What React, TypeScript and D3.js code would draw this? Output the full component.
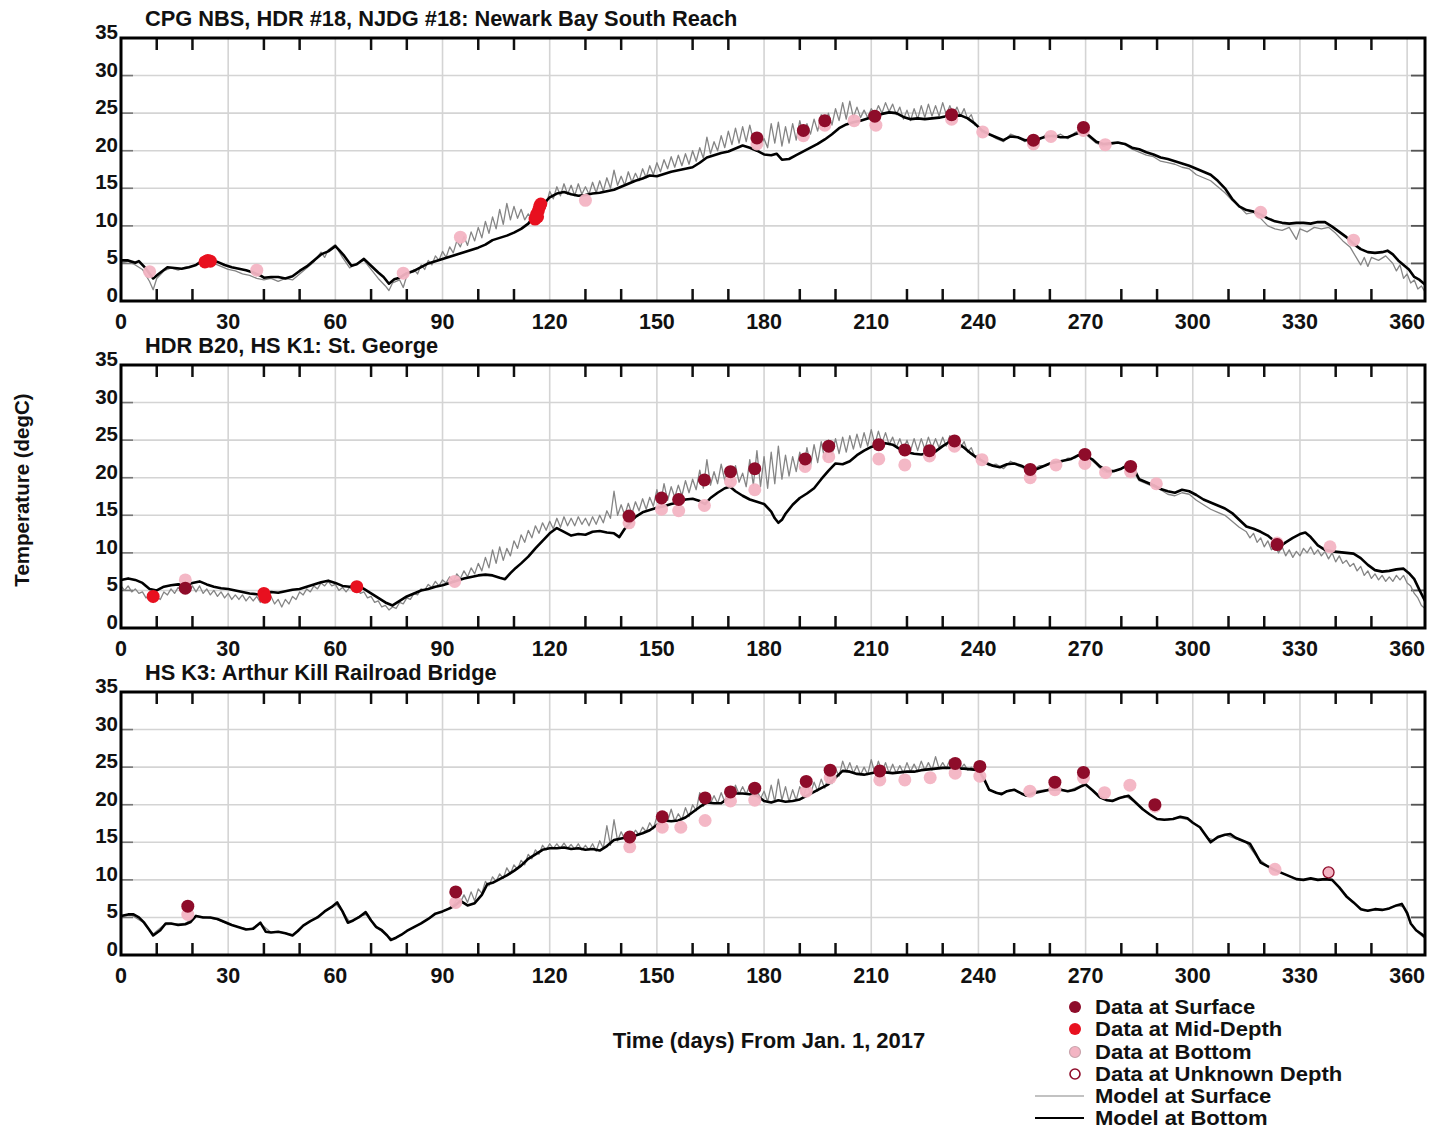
import React from "react";
import * as d3 from "d3";

// ---------- axis / label data ----------
const xTickLabels = [0, 30, 60, 90, 120, 150, 180, 210, 240, 270, 300, 330, 360];
const xMinorTicks = d3.range(10, 365, 10);
const yTickLabels = [0, 5, 10, 15, 20, 25, 30, 35];
const panelTitles = [
  "CPG NBS, HDR #18, NJDG #18: Newark Bay South Reach",
  "HDR B20, HS K1: St. George",
  "HS K3: Arthur Kill Railroad Bridge",
];
const yAxisTitle = "Temperature (degC)";
const xAxisTitle = "Time (days) From Jan. 1, 2017";
const legendLabels = [
  "Data at Surface",
  "Data at Mid-Depth",
  "Data at Bottom",
  "Data at Unknown Depth",
  "Model at Surface",
  "Model at Bottom",
];

type P = [number, number];

// ---------- Panel 1: Newark Bay South Reach ----------
const p1ModelSurface: P[] = [[0,5.0],[2,5.3],[4,4.8],[6,4.2],[8,2.6],[9,1.5],[10,3.0],[12,4.0],[14,4.4],[16,4.1],[18,4.5],[20,4.6],[22,5.1],[24,5.3],[26,5.0],[28,4.6],[30,4.2],[32,4.0],[34,3.6],[36,3.4],[38,3.0],[40,2.8],[42,3.0],[44,2.6],[46,3.0],[48,2.8],[50,3.6],[52,4.4],[54,5.2],[56,6.5],[57,5.8],[58,6.8],[60,7.5],[61,6.6],[62,5.8],[64,4.4],[66,5.0],[68,5.4],[70,4.2],[72,3.0],[74,2.0],[75,1.4],[76,2.4],[78,2.8],[79,1.8],[80,3.4],[82,4.2],[83,3.6],[84,4.8],[85,4.2],[86,5.4],[87,4.8],[88,6.0],[89,5.4],[90,6.6],[91,5.8],[92,7.2],[93,6.4],[94,8.0],[95,7.2],[96,8.6],[97,7.4],[98,9.2],[99,8.0],[100,9.8],[101,8.4],[102,10.6],[103,9.0],[104,11.2],[105,9.6],[106,12.2],[107,10.2],[108,13.0],[109,10.8],[110,12.6],[111,11.0],[112,12.2],[113,10.8],[114,11.6],[115,11.0],[116,12.4],[117,12.0],[118,13.6],[119,12.8],[120,14.6],[121,13.6],[122,15.2],[123,14.0],[124,15.6],[125,14.2],[126,15.4],[127,14.0],[128,15.6],[129,14.2],[130,15.2],[131,14.2],[132,15.8],[133,14.4],[134,16.0],[135,14.6],[136,16.4],[137,15.0],[138,17.4],[139,15.4],[140,16.6],[141,15.4],[142,17.2],[143,15.8],[144,17.0],[145,16.0],[146,17.6],[147,16.4],[148,18.0],[149,16.8],[150,18.4],[151,17.2],[152,18.8],[153,17.6],[154,19.2],[155,17.8],[156,19.4],[157,18.0],[158,19.6],[159,18.2],[160,20.0],[161,18.6],[162,20.4],[163,19.0],[164,21.8],[165,19.6],[166,21.2],[167,20.0],[168,22.0],[169,20.4],[170,22.6],[171,20.8],[172,23.0],[173,21.0],[174,23.2],[175,21.2],[176,23.4],[177,21.4],[178,22.4],[179,20.6],[180,21.6],[181,20.4],[182,23.6],[183,21.0],[184,23.8],[185,20.6],[186,23.2],[187,21.0],[188,23.6],[189,21.4],[190,24.0],[191,22.0],[192,23.6],[193,22.2],[194,24.2],[195,22.6],[196,24.8],[197,23.0],[198,25.0],[199,23.4],[200,25.6],[201,24.0],[202,26.4],[203,24.2],[204,26.6],[205,24.4],[206,25.8],[207,24.4],[208,25.4],[209,24.4],[210,25.6],[211,24.8],[212,26.0],[213,25.0],[214,26.4],[215,25.2],[216,26.2],[217,24.8],[218,25.8],[219,24.2],[220,25.4],[221,24.0],[222,25.6],[223,24.2],[224,26.0],[225,24.4],[226,26.2],[227,24.6],[228,26.0],[229,24.6],[230,26.4],[231,24.8],[232,26.0],[233,24.8],[234,25.8],[235,24.6],[236,25.6],[237,24.2],[238,24.8],[239,23.4],[240,23.2],[241,22.4],[243,22.2],[245,21.6],[247,21.2],[249,22.2],[251,21.8],[253,21.2],[255,21.8],[257,21.4],[259,22.2],[261,21.8],[263,22.2],[265,21.6],[267,22.4],[269,22.8],[271,21.8],[273,21.0],[275,20.6],[277,20.8],[279,21.0],[281,20.8],[283,20.2],[285,19.8],[287,19.4],[289,19.2],[291,18.6],[293,18.4],[295,18.2],[297,17.8],[299,17.6],[301,16.8],[303,16.4],[305,16.0],[307,15.2],[309,14.4],[311,13.4],[313,12.6],[315,11.6],[317,11.8],[319,11.0],[321,10.0],[323,9.6],[325,9.4],[327,9.8],[328,9.0],[329,8.2],[330,9.6],[332,9.2],[334,9.8],[336,9.6],[338,9.8],[340,9.0],[342,8.0],[344,7.2],[346,5.6],[347,4.8],[348,5.8],[349,4.6],[350,5.8],[352,5.4],[354,6.0],[356,5.0],[357,4.0],[358,4.8],[359,3.0],[360,3.6],[361,2.4],[362,2.8],[363,1.6],[364,2.0],[365,1.2]];
const p1ModelBottom: P[] = [[0,5.4],[2,5.4],[4,5.1],[5,5.3],[7,4.3],[9,3.0],[10.5,3.6],[13,4.5],[15,4.4],[17,4.3],[19,4.5],[21,4.8],[23,5.4],[25,5.5],[27,5.2],[29,4.8],[31,4.5],[33,4.3],[35,4.1],[37,3.8],[39,3.4],[40,3.1],[42,3.2],[44,3.2],[46,3.0],[48,3.3],[50,4.0],[52,4.6],[54,5.4],[56,6.2],[58,6.6],[60,7.3],[61,6.8],[62.5,6.0],[64.5,4.7],[66,4.9],[68,5.6],[70,4.7],[72,3.8],[73.5,3.2],[75,2.3],[76.5,2.9],[78,3.1],[80,3.7],[82,4.0],[84,4.5],[86,5.0],[88,5.3],[90,5.6],[92,5.9],[94,6.2],[96,6.5],[98,6.8],[100,7.1],[102,7.5],[104,8.1],[106,8.4],[108,8.7],[110,9.1],[112,9.6],[114,10.3],[116,11.5],[117,12.2],[118,12.8],[120,13.8],[122,14.3],[124,14.5],[126,14.2],[128,14.0],[130,14.1],[132,14.3],[134,14.4],[136,14.6],[138,14.8],[140,15.2],[142,15.6],[144,16.0],[146,16.3],[148,16.7],[150,16.6],[152,16.9],[154,17.2],[156,17.4],[158,17.6],[160,17.8],[162,18.4],[164,19.1],[166,19.4],[168,19.7],[170,19.9],[172,20.3],[174,20.7],[176,20.4],[178,20.0],[180,19.5],[182,19.4],[183.5,19.6],[185,18.8],[187,18.9],[189,19.4],[191,19.9],[193,20.4],[195,20.9],[197,21.5],[199,22.2],[201,23.0],[203,23.5],[205,23.8],[207,24.0],[209,24.3],[211,24.6],[213,24.9],[215,25.1],[217,25.0],[219,24.5],[221,24.2],[223,24.3],[225,24.2],[227,24.3],[229,24.4],[231,24.6],[233,24.6],[235,24.7],[237,24.3],[239,23.6],[241,22.7],[243,22.2],[245,21.8],[247,21.4],[249,21.9],[251,21.8],[253,21.4],[255,21.5],[257,21.6],[259,21.9],[261,22.0],[263,21.8],[265,21.8],[267,22.2],[269,22.5],[271,22.0],[273,21.2],[275,20.9],[277,21.0],[279,21.1],[281,20.9],[283,20.4],[285,20.2],[287,19.8],[289,19.5],[291,19.1],[293,18.9],[295,18.6],[297,18.3],[299,18.0],[301,17.6],[303,17.2],[305,16.8],[307,16.0],[309,15.0],[311,13.6],[313,12.6],[315,12.1],[317,11.9],[319,11.5],[321,11.0],[323,10.6],[325,10.4],[327,10.3],[329,10.4],[331,10.4],[333,10.3],[335,10.5],[337,10.5],[339,9.9],[341,9.2],[343,8.5],[345,7.6],[347,6.9],[349,6.5],[351,6.4],[353,6.5],[354.5,6.7],[356,6.2],[357.5,5.4],[359,4.8],[360.5,4.2],[362,3.2],[363.5,2.8],[365,2.2]];
const p1DataSurface: P[] = [[178,21.7],[191,22.7],[197,24.0],[211,24.6],[232.5,24.8],[255.4,21.4],[269.4,23.1]];
const p1DataMid: P[] = [[23.5,5.2],[24.3,5.4],[25,5.3],[115.9,10.9],[116.3,11.5],[116.8,12.0],[117.2,12.6],[117.5,12.9],[116.6,11.2]];
const p1DataBottom: P[] = [[8,3.9],[38,4.1],[79,3.7],[95,8.5],[130,13.4],[178,20.9],[191,22.0],[197,23.4],[205.2,24.0],[211.3,23.4],[232.5,24.2],[241.2,22.5],[255.4,20.9],[260.3,21.9],[269.4,22.7],[275.5,20.8],[319,11.8],[345,8.1]];
const p1DataUnknown: P[] = [];

// ---------- Panel 2: St. George ----------
const p2ModelSurface: P[] = [[0,5.6],[1,5.0],[2,5.6],[3,4.8],[4,5.2],[5,4.6],[6,4.8],[7,4.0],[8,4.4],[9,3.4],[10,4.2],[11,3.8],[12,4.8],[13,4.4],[14,5.2],[15,4.6],[16,5.4],[17,4.8],[18,5.4],[19,4.8],[20,5.6],[21,4.8],[22,5.6],[23,4.6],[24,5.2],[25,4.4],[26,5.0],[27,4.2],[28,4.8],[29,4.0],[30,4.6],[31,3.8],[32,4.4],[33,3.8],[34,4.4],[35,3.6],[36,4.2],[37,3.6],[38,4.2],[39,3.4],[40,4.0],[41,3.4],[42,4.2],[43,3.2],[44,3.8],[45,2.8],[46,3.8],[47,3.2],[48,4.2],[49,3.8],[50,4.8],[51,4.4],[52,5.2],[53,4.8],[54,5.6],[55,5.2],[56,6.0],[57,5.6],[58,6.2],[59,5.6],[60,5.8],[61,5.0],[62,5.4],[63,4.8],[64,5.4],[65,5.0],[66,5.4],[67,4.6],[68,4.8],[69,4.0],[70,4.2],[71,3.4],[72,3.6],[73,2.8],[74,3.0],[75,2.4],[76,2.8],[77,2.6],[78,3.4],[79,3.2],[80,4.0],[81,3.8],[82,4.6],[83,4.4],[84,5.2],[85,5.0],[86,5.8],[87,5.4],[88,6.2],[89,5.6],[90,6.4],[91,6.0],[92,6.8],[93,6.2],[94,7.2],[95,6.6],[96,7.6],[97,6.8],[98,8.0],[99,7.2],[100,8.6],[101,7.6],[102,9.4],[103,8.0],[104,10.4],[105,8.6],[106,10.8],[107,9.0],[108,10.6],[109,9.6],[110,11.6],[111,10.6],[112,12.4],[113,11.4],[114,13.0],[115,12.0],[116,13.6],[117,12.6],[118,14.0],[119,13.0],[120,14.2],[121,13.2],[122,14.6],[123,13.4],[124,14.8],[125,13.6],[126,14.6],[127,13.6],[128,14.8],[129,13.8],[130,14.6],[131,13.6],[132,14.8],[133,13.8],[134,15.0],[135,14.0],[136,15.6],[137,14.6],[138,18.2],[139,15.0],[140,16.4],[141,15.0],[142,16.6],[143,15.2],[144,16.8],[145,15.6],[146,17.2],[147,15.8],[148,17.4],[149,16.2],[150,18.4],[151,16.6],[152,19.2],[153,17.0],[154,18.8],[155,17.4],[156,19.0],[157,17.6],[158,19.6],[159,18.0],[160,19.8],[161,18.4],[162,21.0],[163,18.6],[164,22.4],[165,19.0],[166,20.8],[167,19.2],[168,21.8],[169,19.6],[170,21.4],[171,19.6],[172,21.6],[173,19.4],[174,20.6],[175,18.8],[176,22.4],[177,19.0],[178,23.6],[179,18.8],[180,22.8],[181,18.6],[182,23.4],[183,19.2],[184,24.2],[185,19.8],[186,23.0],[187,20.2],[188,22.8],[189,20.8],[190,23.4],[191,21.2],[192,24.0],[193,21.6],[194,24.4],[195,22.0],[196,24.8],[197,22.4],[198,25.0],[199,23.0],[200,25.2],[201,23.2],[202,25.4],[203,23.4],[204,25.6],[205,23.8],[206,25.8],[207,24.0],[208,26.0],[209,24.2],[210,26.4],[211,24.4],[212,26.2],[213,24.6],[214,26.0],[215,24.4],[216,25.4],[217,24.0],[218,25.2],[219,23.8],[220,25.0],[221,23.6],[222,25.2],[223,23.6],[224,25.2],[225,23.8],[226,25.4],[227,24.0],[228,25.2],[229,24.0],[230,25.4],[231,24.2],[232,25.6],[233,24.4],[234,25.4],[235,24.0],[236,24.8],[237,23.4],[238,24.0],[239,22.8],[240,23.0],[241,22.2],[243,21.6],[245,21.8],[247,21.2],[249,22.2],[251,21.6],[253,21.2],[255,21.0],[257,21.6],[259,21.6],[261,22.2],[263,22.0],[265,22.6],[267,22.6],[269,23.2],[271,22.6],[273,21.8],[275,20.8],[277,20.6],[279,21.0],[281,21.6],[283,21.0],[285,19.6],[287,19.2],[289,18.8],[291,18.4],[293,17.8],[295,17.6],[297,18.0],[299,17.8],[301,17.0],[303,16.4],[305,15.8],[307,15.4],[309,15.0],[311,14.2],[313,13.4],[315,12.8],[316,12.0],[317,12.6],[318,11.4],[319,12.0],[320,10.8],[321,11.6],[322,10.4],[323,11.0],[324,10.0],[325,10.8],[326,9.6],[327,10.4],[328,9.4],[329,10.2],[330,9.6],[331,10.6],[332,10.0],[333,10.8],[334,9.8],[335,10.4],[336,9.6],[337,10.2],[338,9.2],[339,10.0],[340,8.8],[341,9.6],[342,8.6],[343,9.0],[344,8.2],[345,8.6],[346,7.6],[347,8.2],[348,7.0],[349,7.6],[350,6.6],[351,7.2],[352,6.4],[353,7.0],[354,6.2],[355,6.8],[356,6.2],[357,7.0],[358,6.4],[359,7.0],[360,6.0],[361,5.6],[362,4.6],[363,4.0],[364,3.0],[365,2.6]];
const p2ModelBottom: P[] = [[0,6.4],[2,6.6],[4,6.4],[6,6.0],[8,5.2],[10,5.0],[12,5.5],[14,5.7],[16,5.8],[18,5.7],[20,6.0],[22,6.2],[24,5.8],[26,5.5],[28,5.3],[30,5.2],[32,5.0],[34,4.8],[36,4.6],[38,4.5],[40,4.4],[42,4.8],[44,4.7],[46,4.9],[48,5.1],[50,5.2],[52,5.5],[54,5.8],[56,6.1],[58,6.3],[60,6.0],[62,5.6],[64,5.5],[66,5.7],[68,5.2],[70,4.6],[72,4.0],[74,3.4],[76,3.0],[78,3.6],[80,4.2],[82,4.6],[84,5.0],[86,5.2],[88,5.5],[90,5.7],[92,6.0],[94,6.3],[96,6.6],[98,6.8],[100,7.0],[102,7.1],[104,7.0],[106,6.7],[107.5,6.5],[109,7.3],[110.5,8.0],[112,8.6],[114,9.5],[116,10.6],[118,11.6],[120,12.6],[122,13.3],[124,12.8],[126,12.3],[128,12.5],[130,12.4],[132,12.8],[134,12.9],[136,12.7],[138,12.6],[139.5,12.1],[141,13.2],[142.5,14.0],[144,14.8],[146,15.4],[148,15.7],[150,16.0],[152,16.2],[154,16.5],[156,16.7],[158,17.1],[160,17.2],[162,16.9],[163.5,16.5],[165,17.3],[167,18.0],[169,18.6],[170.5,18.8],[172,18.2],[174,17.6],[176,17.1],[178,16.8],[180,16.5],[182,15.5],[183,14.6],[184,14.0],[185,14.4],[186,15.2],[188,16.4],[190,17.3],[192,17.9],[194,18.6],[196,19.8],[198,20.9],[200,21.9],[202,21.8],[204,22.2],[206,23.0],[208,23.6],[210,24.1],[212,24.4],[214,24.6],[216,24.4],[218,23.8],[220,23.4],[222,23.2],[224,23.1],[226,23.3],[228,23.5],[230,24.2],[232,24.8],[234,24.6],[236,24.0],[238,23.2],[240,22.5],[242,22.0],[244,21.6],[246,21.4],[248,21.8],[250,21.9],[252,21.6],[254,21.1],[256,21.1],[258,21.5],[260,21.9],[262,22.1],[264,22.3],[266,22.5],[268,23.0],[270,22.9],[272,22.4],[274,21.5],[276,20.9],[278,20.9],[280,21.2],[282,21.7],[283.5,21.2],[285,19.8],[287,19.4],[289,19.0],[291,18.5],[293,18.2],[295,18.0],[297,18.4],[299,18.2],[301,17.7],[303,17.1],[305,16.7],[307,16.3],[309,15.9],[311,15.3],[313,14.4],[315,13.5],[317,13.2],[319,12.8],[321,12.3],[323,11.5],[324.5,10.9],[326,11.4],[328,12.0],[330,12.5],[331.5,12.7],[333,12.1],[335,11.0],[337,10.4],[339,10.2],[341,10.1],[343,10.0],[345,9.9],[347,9.3],[349,8.4],[351,7.7],[353,7.5],[355,7.6],[357,7.8],[359,7.9],[360.5,7.3],[362,6.5],[363.5,5.0],[365,3.6]];
const p2DataSurface: P[] = [[18,5.3],[142.2,14.9],[151.3,17.3],[156.1,17.1],[163.3,19.7],[170.6,20.8],[177.4,21.2],[191.5,22.5],[198.1,24.2],[212.1,24.4],[219.4,23.7],[226.3,23.6],[233.3,24.9],[254.5,21.1],[269.8,23.1],[282.6,21.5],[323.6,11.1]];
const p2DataMid: P[] = [[9,4.2],[40,4.6],[40.3,4.1],[66,5.5]];
const p2DataBottom: P[] = [[18,6.4],[93.4,6.2],[142.2,14.0],[151.3,15.8],[156.1,15.6],[163.3,16.3],[170.6,19.5],[177.4,18.4],[191.5,21.5],[198.1,22.8],[212.1,22.5],[219.4,21.7],[226.3,22.9],[233.3,24.2],[241,22.4],[254.5,20.0],[261.7,21.7],[269.8,21.9],[275.6,20.7],[282.6,20.8],[289.8,19.2],[323.6,11.3],[338.4,10.8]];
const p2DataUnknown: P[] = [];

// ---------- Panel 3: Arthur Kill Railroad Bridge ----------
const p3ModelSurface: P[] = [[0,5.2],[3,5.3],[6,4.4],[9,2.8],[12,4.0],[15,4.1],[18,4.2],[21,5.2],[24,5.0],[27,4.7],[30,4.1],[33,3.7],[36,3.4],[39,4.2],[42,3.0],[45,3.0],[48,2.7],[51,3.9],[54,4.8],[57,5.8],[60,6.8],[62,5.8],[64,4.4],[67,5.2],[69,5.4],[71,3.8],[74,2.8],[76,2.1],[79,2.9],[82,3.7],[85,4.5],[88,5.5],[91,6.0],[93,6.6],[94,7.4],[95,7.0],[96,8.0],[97,7.0],[98,8.4],[99,7.2],[100,8.8],[101,8.2],[102,9.8],[103,9.2],[104,10.4],[105,9.8],[106,10.8],[107,10.2],[108,11.6],[109,10.8],[110,12.0],[111,11.4],[112,12.6],[113,12.0],[114,13.4],[115,12.8],[116,14.0],[117,13.4],[118,14.6],[119,14.0],[120,14.8],[121,14.2],[122,14.8],[123,14.2],[124,14.9],[125,14.2],[126,14.7],[127,14.1],[128,14.8],[129,14.0],[130,14.6],[131,14.0],[132,14.8],[133,13.8],[134,15.2],[135,14.2],[136,17.2],[137,14.6],[138,18.0],[139,15.2],[140,16.4],[141,15.4],[142,16.2],[143,15.8],[144,16.6],[145,16.0],[146,17.0],[147,16.4],[148,17.6],[149,16.8],[150,18.4],[151,17.4],[152,19.0],[153,17.8],[154,19.4],[155,17.8],[156,18.8],[157,18.0],[158,19.6],[159,18.4],[160,20.0],[161,19.2],[162,21.6],[163,19.8],[164,21.4],[165,20.2],[166,21.2],[167,20.2],[168,21.6],[169,20.4],[170,22.0],[171,21.0],[172,22.6],[173,21.4],[174,22.4],[175,21.4],[176,22.6],[177,21.2],[178,22.0],[179,20.8],[180,21.8],[181,20.4],[182,22.6],[183,20.4],[184,23.4],[185,20.6],[186,22.4],[187,20.4],[188,22.0],[189,20.6],[190,22.4],[191,21.0],[192,22.6],[193,21.4],[194,23.0],[195,21.8],[196,23.4],[197,22.2],[198,23.8],[199,22.8],[200,24.8],[201,23.8],[202,25.8],[203,24.4],[204,25.6],[205,24.2],[206,25.2],[207,24.0],[208,25.0],[209,24.0],[210,26.0],[211,24.2],[212,25.8],[213,24.4],[214,25.6],[215,24.2],[216,25.4],[217,24.2],[218,25.2],[219,24.2],[220,25.6],[221,24.4],[222,25.4],[223,24.4],[224,25.8],[225,24.6],[226,25.6],[227,24.6],[228,26.4],[229,24.8],[230,25.6],[231,24.8],[232,26.0],[233,24.8],[234,25.6],[235,24.8],[236,25.4],[237,24.6],[238,25.0],[239,24.6],[240,24.8],[241,23.6],[243,22.0],[245,21.6],[247,21.6],[249,22.0],[251,21.8],[253,21.2],[256,21.8],[259,22.0],[262,22.2],[265,21.8],[268,22.4],[270,22.8],[272,21.8],[275,20.7],[278,20.6],[281,21.2],[284,20.3],[287,19.0],[290,18.1],[293,18.0],[296,18.3],[299,18.0],[302,17.0],[304,15.6],[306,15.3],[309,16.0],[312,15.5],[315,15.0],[318,13.0],[321,11.8],[324,11.1],[327,10.5],[330,10.0],[333,10.2],[336,10.0],[339,10.0],[342,8.4],[345,7.0],[348,5.9],[351,6.0],[354,6.1],[357,6.6],[359,6.4],[361,4.2],[363,3.0],[365,2.2]];
const p3ModelBottom: P[] = [[0,5.2],[2,5.4],[3.5,5.4],[5,5.0],[6.5,4.3],[8,3.3],[9,2.6],[11,3.3],[12.5,4.2],[14,4.2],[16,4.0],[18,4.1],[19.5,4.4],[21,5.2],[23,5.0],[25,5.0],[27,4.8],[29,4.4],[31,4.0],[33,3.7],[35,3.4],[37,3.5],[39,4.3],[40.5,3.1],[42,3.0],[44,3.1],[46,2.9],[48,2.6],[49.5,3.2],[51,3.9],[53,4.5],[55,5.0],[57,5.8],[59,6.4],[60.5,7.0],[62,5.8],[63.5,4.3],[65,4.6],[66.5,5.0],[68.5,5.7],[70,4.6],[71.5,3.7],[73,3.3],[74.5,2.6],[75.5,2.0],[77,2.3],[78.5,2.7],[80,3.2],[82,3.7],[84,4.2],[86,4.8],[88,5.5],[90,5.8],[92,6.2],[93.5,6.6],[95,7.2],[97,6.6],[99,6.9],[101,8.0],[102.5,9.4],[104,9.6],[106,10.1],[108,10.6],[110,11.2],[112,11.9],[114,12.8],[116,13.4],[118,14.0],[120,14.2],[122,14.2],[124,14.3],[126,14.1],[128,14.2],[130,14.0],[132,14.1],[134,13.9],[136,14.5],[138,15.3],[140,15.5],[142,15.7],[144,15.9],[146,16.2],[148,16.6],[150,17.3],[152,17.9],[154,17.8],[156,17.9],[158,18.3],[160,19.0],[162,19.7],[164,20.3],[166,20.2],[168,20.2],[170,20.9],[172,21.5],[174,21.5],[176,21.4],[178,21.2],[180,20.5],[182,20.3],[184,20.6],[186,20.4],[188,20.5],[190,20.7],[192,21.2],[194,21.7],[196,22.2],[198,22.7],[200,23.6],[202,24.5],[204,24.4],[206,24.1],[208,24.0],[210,24.2],[212,24.4],[214,24.3],[216,24.2],[218,24.3],[220,24.4],[222,24.4],[224,24.6],[226,24.7],[228,24.8],[230,24.9],[232,24.9],[234,24.8],[236,24.8],[238,24.7],[240,24.6],[241.5,23.5],[243,22.0],[245,21.6],[246.5,21.4],[248,21.8],[250,22.0],[252,21.5],[253.5,21.2],[256,21.6],[258,21.8],[260,22.0],[263,22.0],[265,21.8],[267,22.0],[269,22.5],[270,22.7],[272,21.9],[274,21.0],[276,20.6],[277.5,20.5],[279.5,20.9],[282,21.2],[284,20.3],[286,19.4],[288,18.7],[290,18.1],[292,18.0],[294.5,18.1],[296.5,18.4],[298.5,18.2],[300,17.6],[302,17.0],[303.5,16.0],[305,15.0],[307,15.7],[309,16.0],[310.5,16.1],[312,15.6],[314,15.2],[316,14.8],[317.5,13.6],[319,12.3],[321,11.8],[323,11.3],[325,10.9],[327,10.5],[329,10.1],[331,10.0],[333,10.2],[335,10.0],[337,10.1],[339,10.0],[341,9.0],[343,7.8],[345,7.0],[347,6.1],[349,5.9],[351,6.1],[353,6.0],[355,6.2],[357,6.6],[358.5,6.8],[360,5.6],[361,4.2],[362.5,3.3],[364,2.8],[365,2.4]];
const p3DataSurface: P[] = [[18.7,6.5],[93.7,8.4],[142.4,15.7],[151.5,18.4],[163.5,20.9],[170.6,21.7],[177.4,22.2],[191.8,23.1],[198.5,24.6],[212.4,24.5],[233.5,25.5],[240.4,25.1],[261.4,23.0],[269.4,24.3],[289.4,20.0]];
const p3DataMid: P[] = [];
const p3DataBottom: P[] = [[18.7,5.4],[93.7,7.0],[142.4,14.4],[151.5,17.0],[156.7,17.0],[163.5,17.9],[170.6,20.5],[177.4,20.6],[191.8,21.8],[198.5,23.6],[212.4,23.3],[219.4,23.3],[226.5,23.6],[233.5,24.2],[240.4,23.8],[254.4,21.8],[261.4,22.0],[269.4,23.6],[275.3,21.6],[282.4,22.6],[289.4,19.8],[323,11.4]];
const p3DataUnknown: P[] = [[338,11.0]];

const panels = [
  { title: panelTitles[0], surf: p1ModelSurface, bot: p1ModelBottom, dS: p1DataSurface, dM: p1DataMid, dB: p1DataBottom, dU: p1DataUnknown },
  { title: panelTitles[1], surf: p2ModelSurface, bot: p2ModelBottom, dS: p2DataSurface, dM: p2DataMid, dB: p2DataBottom, dU: p2DataUnknown },
  { title: panelTitles[2], surf: p3ModelSurface, bot: p3ModelBottom, dS: p3DataSurface, dM: p3DataMid, dB: p3DataBottom, dU: p3DataUnknown },
];

// ---------- styling ----------
const FONT = "'Liberation Sans', Arial, Helvetica, sans-serif";
const C_SURF = "#8e0c2a";
const C_MID = "#e8101f";
const C_BOT = "#f3b4c3";
const C_GRID = "#d4d4d4";
const C_MODEL_SURF = "#858585";

const W = 1429;
const H = 1133;
const LEFT = 121;
const RIGHT = 1425;
const PANEL_TOPS = [38, 365, 692];
const PANEL_H = 263;

function Panel({ p, top }: { p: (typeof panels)[number]; top: number }) {
  const x = d3.scaleLinear().domain([0, 365]).range([LEFT, RIGHT]);
  const y = d3.scaleLinear().domain([0, 35]).range([top + PANEL_H, top]);
  const line = d3.line<P>().x((d) => x(d[0])).y((d) => y(d[1]));
  const bottom = top + PANEL_H;
  const R = 6.5;
  return (
    <g>
      {/* grid */}
      {xTickLabels.filter((v) => v > 0).map((v) => (
        <line key={"gx" + v} x1={x(v)} x2={x(v)} y1={top} y2={bottom} stroke={C_GRID} strokeWidth={1.6} />
      ))}
      {yTickLabels.filter((v) => v > 0 && v < 35).map((v) => (
        <line key={"gy" + v} x1={LEFT} x2={RIGHT} y1={y(v)} y2={y(v)} stroke={C_GRID} strokeWidth={1.6} />
      ))}
      {/* y ticks inward */}
      {yTickLabels.filter((v) => v > 0 && v < 35).map((v) => (
        <g key={"ty" + v}>
          <line x1={LEFT} x2={LEFT + 12} y1={y(v)} y2={y(v)} stroke="#777" strokeWidth={1.6} />
          <line x1={RIGHT - 14} x2={RIGHT} y1={y(v)} y2={y(v)} stroke="#555" strokeWidth={1.8} />
        </g>
      ))}
      {/* x minor ticks */}
      {xMinorTicks.filter((v) => v % 30 !== 0).map((v) => (
        <g key={"tx" + v}>
          <line x1={x(v)} x2={x(v)} y1={top} y2={top + 12} stroke="#111" strokeWidth={2.5} />
          <line x1={x(v)} x2={x(v)} y1={bottom - 12} y2={bottom} stroke="#111" strokeWidth={2.5} />
        </g>
      ))}
      {/* model lines */}
      <path d={line(p.surf) || ""} fill="none" stroke={C_MODEL_SURF} strokeWidth={1.3} strokeLinejoin="round" />
      <path d={line(p.bot) || ""} fill="none" stroke="#000" strokeWidth={2.6} strokeLinejoin="round" />
      {/* data */}
      {p.dB.map((d, i) => (
        <circle key={"b" + i} cx={x(d[0])} cy={y(d[1])} r={R} fill={C_BOT} opacity={0.95} />
      ))}
      {p.dU.map((d, i) => (
        <circle key={"u" + i} cx={x(d[0])} cy={y(d[1])} r={R - 1} fill={C_BOT} stroke={C_SURF} strokeWidth={1.3} />
      ))}
      {p.dS.map((d, i) => (
        <circle key={"s" + i} cx={x(d[0])} cy={y(d[1])} r={R} fill={C_SURF} />
      ))}
      {p.dM.map((d, i) => (
        <circle key={"m" + i} cx={x(d[0])} cy={y(d[1])} r={R} fill={C_MID} />
      ))}
      {/* frame */}
      <rect x={LEFT} y={top} width={RIGHT - LEFT} height={PANEL_H} fill="none" stroke="#000" strokeWidth={3} />
      {/* labels */}
      {yTickLabels.map((v) => (
        <text key={"ly" + v} x={LEFT - 3} y={y(v) + 1} textAnchor="end" fontSize={20.5} fontWeight="bold" fontFamily={FONT} fill="#111">
          {v}
        </text>
      ))}
      {xTickLabels.map((v) => (
        <text key={"lx" + v} x={x(v)} y={bottom + 28} textAnchor="middle" fontSize={21.5} fontWeight="bold" fontFamily={FONT} fill="#111">
          {v}
        </text>
      ))}
      <text x={145} y={top - 12} fontSize={21.8} fontWeight="bold" fontFamily={FONT} fill="#111">
        {p.title}
      </text>
    </g>
  );
}

function Legend() {
  const x0 = 1095;
  const ys = [1007, 1029, 1052, 1074, 1096, 1118];
  return (
    <g fontFamily={FONT} fontWeight="bold" fontSize={19} fill="#111">
      <circle cx={1075} cy={ys[0]} r={6} fill={C_SURF} />
      <circle cx={1075} cy={ys[1]} r={6} fill={C_MID} />
      <circle cx={1075} cy={ys[2]} r={5.5} fill={C_BOT} stroke="#c9a4ac" strokeWidth={1.2} />
      <circle cx={1075} cy={ys[3]} r={5} fill="#fff" stroke={C_SURF} strokeWidth={1.6} />
      <line x1={1035} x2={1084} y1={ys[4]} y2={ys[4]} stroke={C_MODEL_SURF} strokeWidth={1.2} />
      <line x1={1035} x2={1084} y1={ys[5]} y2={ys[5]} stroke="#000" strokeWidth={2} />
      {legendLabels.map((l, i) => (
        <text key={l} transform={`translate(${x0},${ys[i] + 7}) scale(1.16,1.08)`}>
          {l}
        </text>
      ))}
    </g>
  );
}

export default function App() {
  return (
    <svg width={W} height={H} style={{ position: "absolute", left: 0, top: 0, background: "#fff" }}>
      <rect x={0} y={0} width={W} height={H} fill="#fff" />
      {panels.map((p, i) => (
        <Panel key={i} p={p} top={PANEL_TOPS[i]} />
      ))}
      <text
        transform={`translate(29,490) rotate(-90)`}
        textAnchor="middle"
        fontSize={20.5}
        fontWeight="bold"
        fontFamily={FONT}
        fill="#111"
      >
        {yAxisTitle}
      </text>
      <text x={769} y={1048} textAnchor="middle" fontSize={22} fontWeight="bold" fontFamily={FONT} fill="#111">
        {xAxisTitle}
      </text>
      <Legend />
    </svg>
  );
}
